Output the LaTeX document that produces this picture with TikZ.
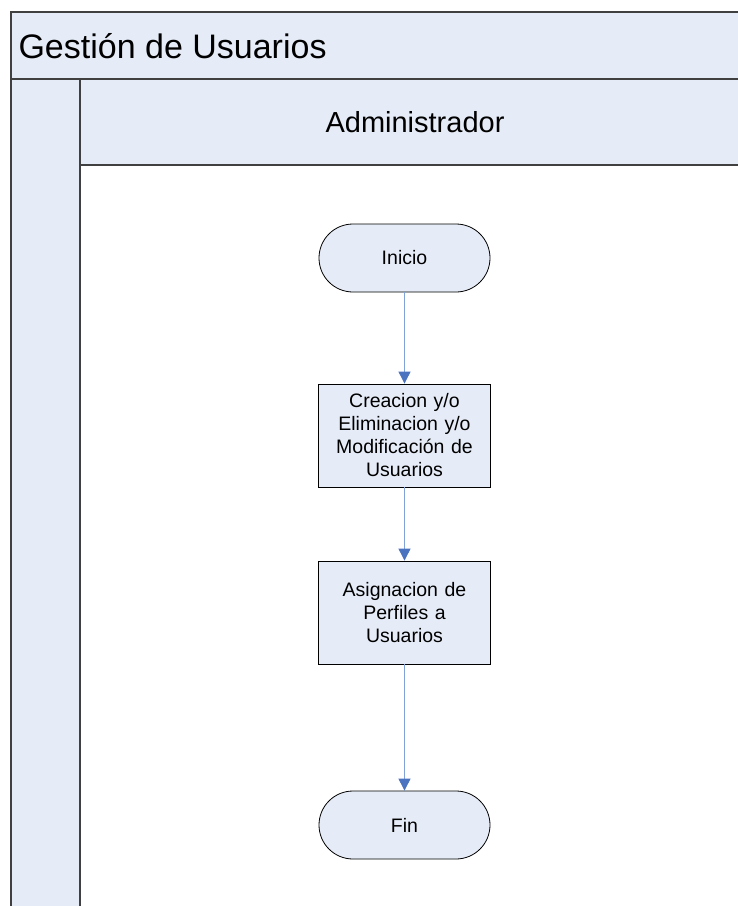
\documentclass[tikz,border=0pt]{standalone}
\usepackage{fontspec}
\setmainfont{Liberation Sans}
\usetikzlibrary{arrows.meta}
\definecolor{lanefill}{HTML}{E6ECF7}
\definecolor{flowline}{HTML}{7FA3D8}
\definecolor{flowhead}{HTML}{4A74C0}
\begin{document}
\begin{tikzpicture}[x=1pt,y=-1pt,
  laneline/.style={draw=black!75,line width=1.2pt},
  terminal/.style={draw=black,line width=0.8pt,fill=lanefill,minimum width=171pt,minimum height=68pt,rounded corners=34pt,font=\fontsize{19.5}{23}\selectfont,align=center},
  process/.style={draw=black,line width=0.8pt,fill=lanefill,minimum width=171pt,minimum height=103pt,font=\fontsize{19.5}{23}\selectfont,align=center,text width=165pt},
  flow/.style={draw=flowline,line width=0.9pt,-{Triangle[length=12pt,width=12pt,fill=flowhead,color=flowhead]}}]
  \useasboundingbox (0,0) rectangle (738,906);
  % pool and lanes
  \fill[white] (0,0) rectangle (738,906);
  \fill[lanefill] (11,12) rectangle (750,79);
  \fill[lanefill] (11,79) rectangle (80,920);
  \fill[lanefill] (80,79) rectangle (750,165);
  \draw[laneline] (11,920) -- (11,12) -- (750,12);
  \draw[laneline] (11,79) -- (750,79);
  \draw[laneline] (80,920) -- (80,79);
  \draw[laneline] (80,165) -- (750,165);
  \node[anchor=west,font=\fontsize{34}{38}\selectfont] (pool) at (15,46) {Gestión de Usuarios};
  \node[font=\fontsize{29}{33}\selectfont] (role) at (415,122) {Administrador};
  % flow
  \node[terminal] (inicio) at (404.5,258) {Inicio};
  \node[process] (crear) at (404.5,435.5) {Creacion y/o\\Eliminacion y/o\\Modificación de\\Usuarios};
  \node[process] (asignar) at (404.5,612.5) {Asignacion de\\Perfiles a\\Usuarios};
  \node[terminal] (fin) at (404.5,825) {Fin};
  \draw[flow] (inicio) -- (crear);
  \draw[flow] (crear) -- (asignar);
  \draw[flow] (asignar) -- (fin);
\end{tikzpicture}
\end{document}
